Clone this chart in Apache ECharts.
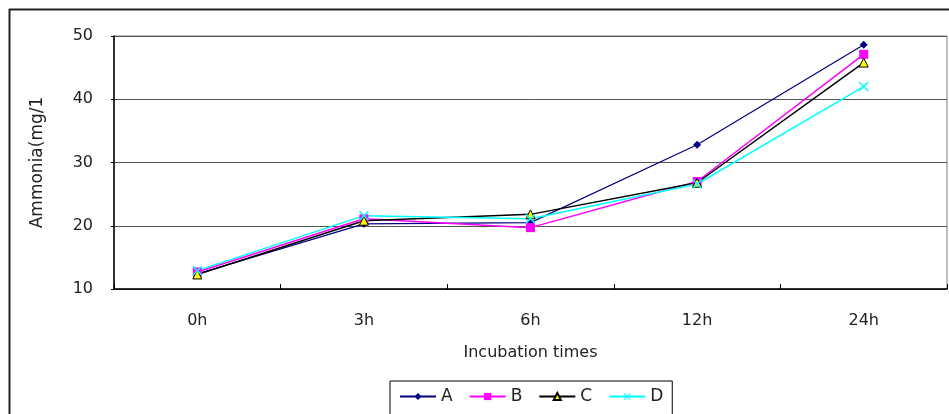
<!DOCTYPE html>
<html>
<head>
<meta charset="utf-8">
<script src="https://cdn.jsdelivr.net/npm/echarts@6/dist/echarts.min.js"></script>
<style>
  html, body { margin: 0; padding: 0; background: #fff; }
  #chart { width: 949px; height: 414px; }
</style>
</head>
<body>
<div id="chart"></div>
<script>
// Ammonia concentration over incubation time for four treatments
const categories = ['0h', '3h', '6h', '12h', '24h'];
const seriesA = [12.4, 20.3, 20.5, 32.8, 48.6];
const seriesB = [12.7, 21.1, 19.7, 27.0, 47.1];
const seriesC = [12.3, 20.8, 21.8, 26.8, 45.8];
const seriesD = [12.9, 21.6, 21.1, 26.6, 42.0];
const yTicks = { min: 10, max: 50, interval: 10 };

const FONT = 'DejaVu Sans';
const crossPath = 'path://M0,1L1,0L5,4L9,0L10,1L6,5L10,9L9,10L5,6L1,10L0,9L4,5Z';

function lineSeries(name, data, color, symbol, size, fill, border, width) {
  return {
    name: name,
    type: 'line',
    data: data,
    symbol: symbol,
    symbolSize: size,
    showAllSymbol: true,
    lineStyle: { color: color, width: width },
    itemStyle: { color: fill, borderColor: border, borderWidth: border ? 1 : 0 },
    emphasis: { disabled: true },
    z: 3
  };
}

const chart = echarts.init(document.getElementById('chart'), null, { renderer: 'canvas' });
chart.setOption({
  animation: false,
  backgroundColor: '#fff',
  grid: {
    left: 114, right: 2, top: 36, bottom: 125,
    show: true, borderColor: '#808080', borderWidth: 1
  },
  xAxis: {
    type: 'category',
    data: categories,
    boundaryGap: true,
    name: 'Incubation times',
    nameLocation: 'middle',
    nameGap: 56,
    nameTextStyle: { fontFamily: FONT, fontSize: 16, color: '#222' },
    axisLine: { lineStyle: { color: '#000', width: 1.5 } },
    axisTick: { show: true, inside: true, length: 5, lineStyle: { color: '#000' } },
    axisLabel: { fontFamily: FONT, fontSize: 16, color: '#222', margin: 24 },
    splitLine: { show: false }
  },
  yAxis: {
    type: 'value',
    min: yTicks.min, max: yTicks.max, interval: yTicks.interval,
    name: 'Ammonia(mg/1',
    nameLocation: 'middle',
    nameGap: 68,
    nameRotate: 90,
    nameTextStyle: { fontFamily: FONT, fontSize: 17, color: '#222' },
    axisLine: { show: true, lineStyle: { color: '#000', width: 1.5 } },
    axisTick: { show: true, length: 3, lineStyle: { color: '#000' } },
    axisLabel: { fontFamily: FONT, fontSize: 16, color: '#222', margin: 21, padding: [5, 0, 0, 0] },
    splitLine: { show: true, lineStyle: { color: '#555', width: 1 } }
  },
  legend: {
    left: 390, top: 381,
    orient: 'horizontal',
    borderColor: '#000', borderWidth: 1,
    padding: [7, 9, 12, 9],
    itemWidth: 36, itemHeight: 9, itemGap: 16,
    textStyle: { fontFamily: FONT, fontSize: 17, color: '#222' },
    data: ['A', 'B', 'C', 'D']
  },
  series: [
    lineSeries('A', seriesA, '#000080', 'diamond', 8, '#000080', null, 1.2),
    lineSeries('B', seriesB, '#ff00ff', 'rect', 9, '#ff00ff', null, 1.5),
    lineSeries('C', seriesC, '#000000', 'triangle', 9, '#ffff00', '#000000', 1.5),
    lineSeries('D', seriesD, '#00ffff', crossPath, 10, '#00ffff', null, 1.5)
  ],
  graphic: [
    // outer chart frame (top and left edges)
    { type: 'line', shape: { x1: 9, y1: 9.5, x2: 949, y2: 9.5 }, style: { stroke: '#222', lineWidth: 2 }, silent: true },
    { type: 'line', shape: { x1: 9.5, y1: 9, x2: 9.5, y2: 414 }, style: { stroke: '#222', lineWidth: 2 }, silent: true }
  ]
});
</script>
</body>
</html>
